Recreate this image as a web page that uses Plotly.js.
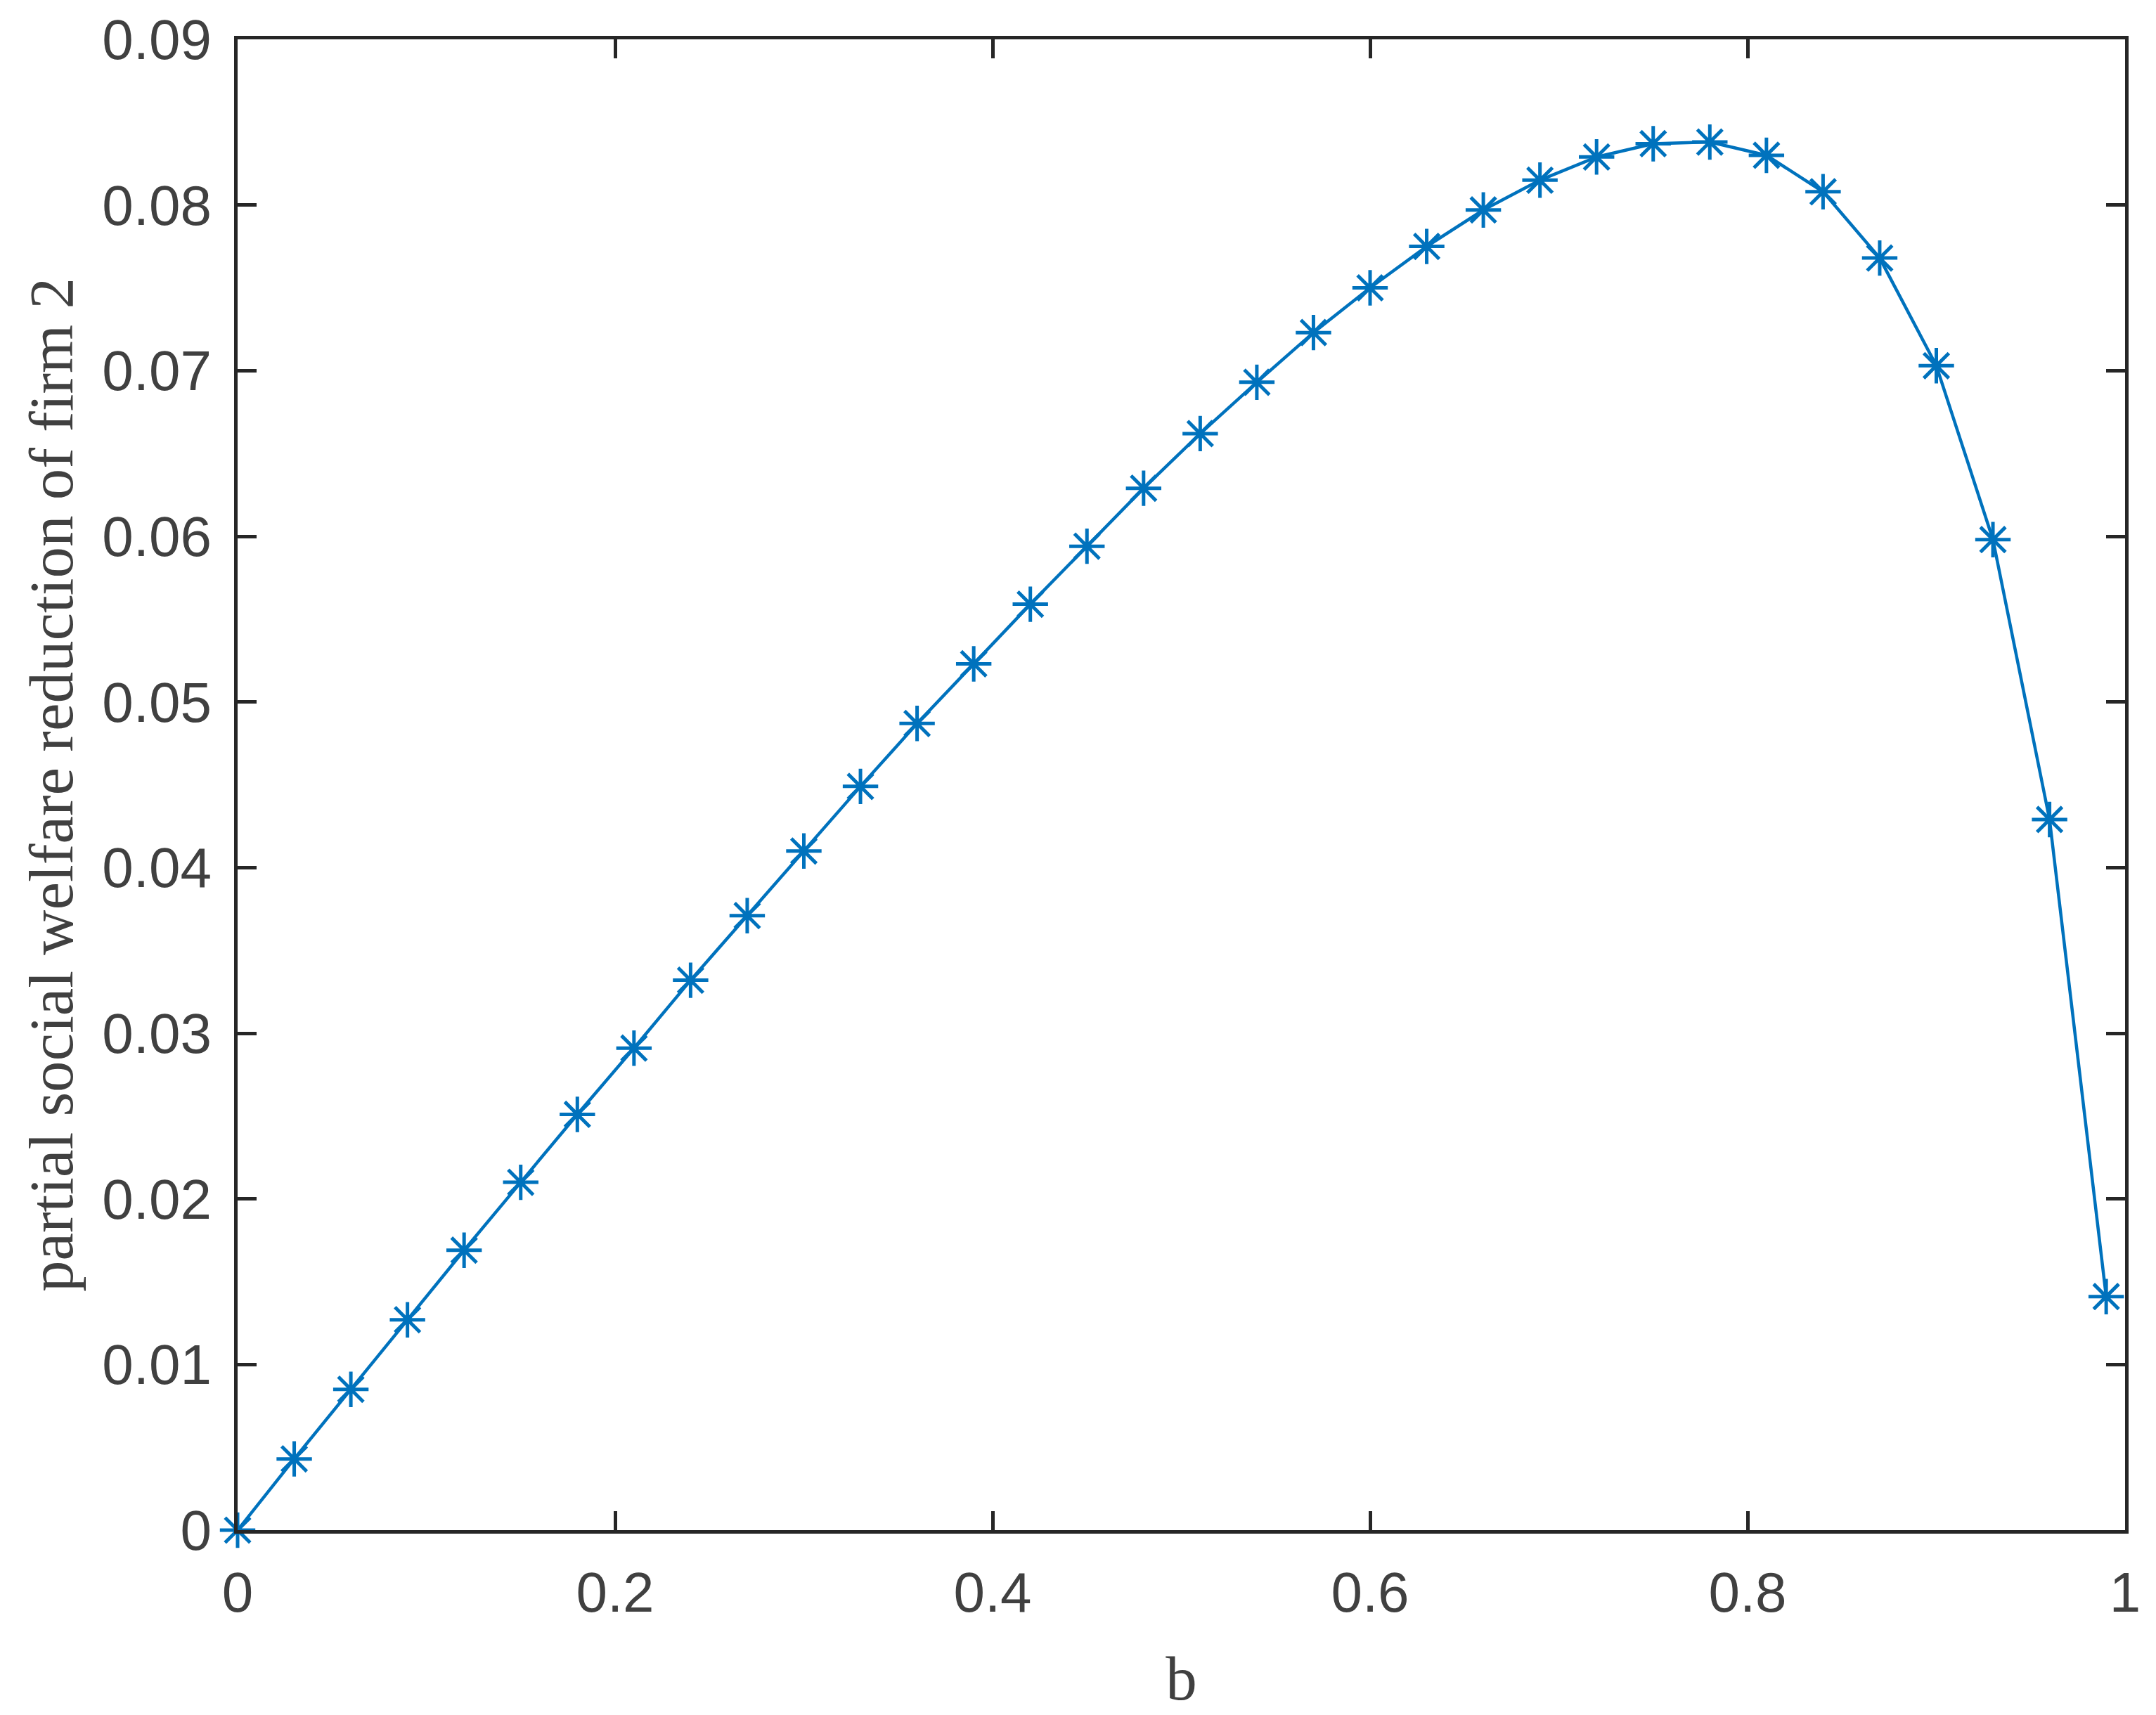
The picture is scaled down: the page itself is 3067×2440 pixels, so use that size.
<!DOCTYPE html>
<html>
<head>
<meta charset="utf-8">
<script src="https://cdn.plot.ly/plotly-3.0.1.min.js"></script>
<style>
  html,body{margin:0;padding:0;background:#fff;}
  #chart{width:3067px;height:2440px;}
</style>
</head>
<body>
<div id="chart"></div>
<script>
// b values and the partial social welfare reduction of firm 2
const bVals = [0, 0.03, 0.06, 0.09, 0.12, 0.15, 0.18, 0.21, 0.24, 0.27,
               0.30, 0.33, 0.36, 0.39, 0.42, 0.45, 0.48, 0.51, 0.54, 0.57,
               0.60, 0.63, 0.66, 0.69, 0.72, 0.75, 0.78, 0.81, 0.84, 0.87,
               0.90, 0.93, 0.96, 0.99];
const reduction = [0, 0.0043, 0.0085, 0.0127, 0.0169, 0.0210, 0.0251, 0.0291, 0.0332, 0.0371,
                   0.0410, 0.0449, 0.0487, 0.0523, 0.0559, 0.0594, 0.0629, 0.0662, 0.0693, 0.0723,
                   0.0750, 0.0775, 0.0797, 0.0815, 0.0829, 0.0837, 0.0838, 0.0830, 0.0808, 0.0768,
                   0.0703, 0.0598, 0.0429, 0.0141];

const xTicks = [0, 0.2, 0.4, 0.6, 0.8, 1];
const xTickText = ['0', '0.2', '0.4', '0.6', '0.8', '1'];
const yTicks = [0, 0.01, 0.02, 0.03, 0.04, 0.05, 0.06, 0.07, 0.08, 0.09];
const yTickText = ['0', '0.01', '0.02', '0.03', '0.04', '0.05', '0.06', '0.07', '0.08', '0.09'];

const xLabel = 'b';
const yLabel = 'partial social welfare reduction of firm 2';

const blue = '#0072BD', axisCol = '#262626', textCol = '#404040';
const tickFont = {family: 'Liberation Sans, Arial, sans-serif', size: 80, color: textCol};
const labelFont = {family: 'Liberation Serif, Times New Roman, serif', size: 89, color: textCol};

function axisStyle(){
  return {
    showline: true, linewidth: 5, linecolor: axisCol, mirror: 'allticks',
    ticks: 'inside', ticklen: 27, tickwidth: 5, tickcolor: axisCol,
    showgrid: false, zeroline: false, tickfont: tickFont
  };
}

const trace = {
  type: 'scatter', mode: 'lines+markers',
  x: bVals, y: reduction,
  line: {color: blue, width: 4.5},
  marker: {symbol: 'asterisk-open', size: 42, color: blue, line: {color: blue, width: 5}},
  cliponaxis: false, showlegend: false
};

const layout = {
  width: 3067, height: 2440,
  paper_bgcolor: '#ffffff', plot_bgcolor: '#ffffff',
  margin: {l: 338, r: 44, t: 56, b: 263, pad: 0},
  xaxis: Object.assign(axisStyle(), {
    range: [0, 1], tickmode: 'array', tickvals: xTicks, ticktext: xTickText,
    ticklabelstandoff: 15,
    title: {text: xLabel, font: labelFont, standoff: 48}
  }),
  yaxis: Object.assign(axisStyle(), {
    range: [0, 0.09], tickmode: 'array', tickvals: yTicks, ticktext: yTickText,
    ticklabelstandoff: 16,
    title: {text: yLabel, font: labelFont, standoff: 14}
  })
};

Plotly.newPlot('chart', [trace], layout, {displayModeBar: false, staticPlot: true});
</script>
</body>
</html>
